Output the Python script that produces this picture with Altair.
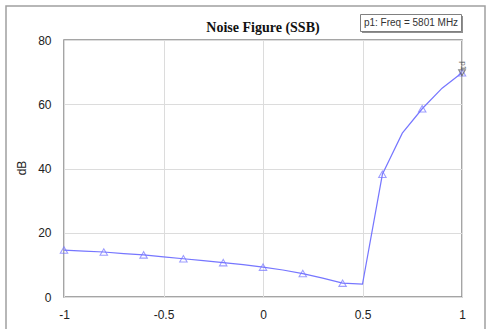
import altair as alt
import pandas as pd

# Line samples
line_x = [-1.0, -0.9, -0.8, -0.7, -0.6, -0.5, -0.4, -0.3, -0.2, -0.1, 0.0,
          0.1, 0.2, 0.3, 0.4, 0.5, 0.6, 0.7, 0.8, 0.9, 1.0]
line_y = [14.6, 14.3, 14.0, 13.5, 13.1, 12.5, 11.9, 11.3, 10.7, 10.1, 9.3,
          8.4, 7.3, 5.9, 4.3, 4.0, 38.2, 51.0, 58.6, 65.0, 69.8]
# Marker samples
mark_x = [-1.0, -0.8, -0.6, -0.4, -0.2, 0.0, 0.2, 0.4, 0.6, 0.8, 1.0]
mark_y = [14.6, 14.0, 13.1, 11.9, 10.7, 9.3, 7.3, 4.3, 38.2, 58.6, 69.8]
# Marker p1
p1_x = [1.0]
p1_y = [69.8]
p1_label = ["p1"]

x_ticks = [-1, -0.5, 0, 0.5, 1]
y_ticks = [0, 20, 40, 60, 80]

title_text = "Noise Figure (SSB)"
legend_text = "p1: Freq = 5801 MHz"
y_title = "dB"

line_df = pd.DataFrame({"x": line_x, "y": line_y})
mark_df = pd.DataFrame({"x": mark_x, "y": mark_y})
p1_df = pd.DataFrame({"x": p1_x, "y": p1_y, "label": p1_label})
one = pd.DataFrame({"k": [0]})

BLUE = "#7676ff"
FONT = "Liberation Sans"

xs = alt.Scale(domain=[-1, 1], nice=False)
ys = alt.Scale(domain=[0, 80], nice=False)

xaxis = alt.Axis(values=x_ticks, title=None, grid=True, gridColor="#dcdcdc",
                 tickSize=0, domain=False, labelPadding=12, labelFontSize=12,
                 labelFont=FONT, labelColor="#222222", format="~g",
                 labelExpr="replace(datum.label, '\u2212', '-')",
                 labelFlush=False)
yaxis = alt.Axis(values=y_ticks, title=None, grid=True, gridColor="#dcdcdc",
                 tickSize=0, domain=False, labelPadding=13, labelFontSize=12,
                 labelFont=FONT, labelColor="#222222", labelFlush=False)

deco = alt.Chart(one)

frame = deco.mark_rect(fill="white", fillOpacity=0, stroke="#a0a0a0", strokeWidth=1.5).encode(
    x=alt.value(-58), x2=alt.value(421), y=alt.value(-34), y2=alt.value(300)
)

line = alt.Chart(line_df).mark_line(color=BLUE, strokeWidth=1.2, clip=False).encode(
    x=alt.X("x:Q", scale=xs, axis=xaxis),
    y=alt.Y("y:Q", scale=ys, axis=yaxis),
)

points = alt.Chart(mark_df).mark_point(
    shape="triangle-up", filled=False, color=BLUE, size=55, strokeWidth=1.1, clip=False
).encode(x=alt.X("x:Q", scale=xs), y=alt.Y("y:Q", scale=ys))

p1_mark = alt.Chart(p1_df).mark_point(
    shape="triangle-down", filled=False, color="#555555", size=45, strokeWidth=1.1, clip=False
).encode(x=alt.X("x:Q", scale=xs), y=alt.Y("y:Q", scale=ys))

p1_text = alt.Chart(p1_df).mark_text(
    angle=90, fontSize=8, font=FONT, color="#555555", dy=-1, dx=-7
).encode(x=alt.X("x:Q", scale=xs), y=alt.Y("y:Q", scale=ys), text="label:N")

title = deco.mark_text(
    text=title_text, font="Liberation Serif", fontWeight="bold", fontSize=14,
    color="#111111", align="center", baseline="middle"
).encode(x=alt.value(199), y=alt.value(-12))

ytitle = deco.mark_text(
    text=y_title, font=FONT, fontSize=12, color="#222222", angle=270,
    align="center", baseline="middle"
).encode(x=alt.value(-42), y=alt.value(128))

legend_shadow = deco.mark_rect(fill="#909090").encode(
    x=alt.value(298), x2=alt.value(399), y=alt.value(-24), y2=alt.value(-7)
)
legend_box = deco.mark_rect(fill="white", stroke="#808080", strokeWidth=1).encode(
    x=alt.value(296.5), x2=alt.value(397.5), y=alt.value(-25.5), y2=alt.value(-8.5)
)
legend_label = deco.mark_text(
    text=legend_text, font=FONT, fontSize=10, color="#333333",
    align="center", baseline="middle"
).encode(x=alt.value(347), y=alt.value(-17))

chart = alt.layer(
    frame, line, points, p1_mark, p1_text, title, ytitle,
    legend_shadow, legend_box, legend_label
).properties(
    width=398, height=257,
    autosize=alt.AutoSizeParams(type="none"),
    padding={"left": 64, "top": 40, "right": 25, "bottom": 32},
    background="white",
).configure_view(stroke="#888888", strokeWidth=1.5)

chart.save("out.html", embed_options={"renderer": "svg", "actions": False})
